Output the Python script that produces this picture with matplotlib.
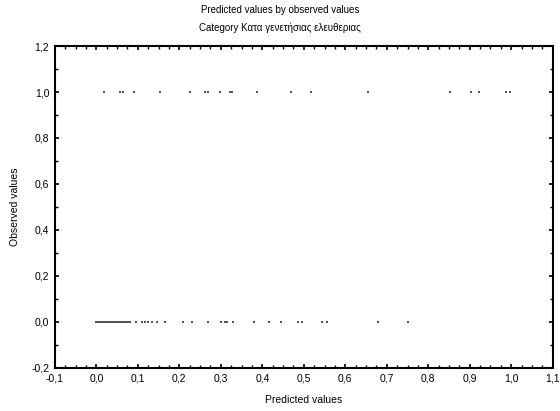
import matplotlib
matplotlib.use("Agg")
import matplotlib.pyplot as plt
from matplotlib.ticker import MultipleLocator, FuncFormatter

# predicted values for cases observed as 1
pred_pos = [0.018, 0.058, 0.065, 0.090, 0.153, 0.225, 0.261, 0.268, 0.299,
            0.322, 0.328, 0.387, 0.468, 0.517, 0.655, 0.852, 0.904, 0.922,
            0.987, 0.996]
# predicted values for cases observed as 0
pred_neg = [0.000, 0.003, 0.005, 0.008, 0.010, 0.012, 0.015, 0.018, 0.020,
            0.023, 0.026, 0.029, 0.032, 0.035, 0.038, 0.041, 0.045, 0.048,
            0.052, 0.056, 0.060, 0.064, 0.068, 0.072, 0.077, 0.082, 0.095,
            0.110, 0.118, 0.125, 0.135, 0.145, 0.165, 0.21, 0.23, 0.27,
            0.30, 0.31, 0.315, 0.33, 0.38, 0.415, 0.445, 0.485, 0.495,
            0.545, 0.555, 0.68, 0.75]

plt.rcParams["font.family"] = ["Liberation Sans", "DejaVu Sans"]

fig = plt.figure(figsize=(5.6, 4.11), dpi=100)
ax = fig.add_axes([0.098, 0.105, 0.889, 0.783])

ax.scatter(pred_pos, [1.0] * len(pred_pos), s=1.2, color="#555555", marker="s", linewidths=0)
ax.scatter(pred_neg, [0.0] * len(pred_neg), s=1.2, color="#555555", marker="s", linewidths=0)

ax.set_xlim(-0.1, 1.1)
ax.set_ylim(-0.2, 1.2)
ax.xaxis.set_major_locator(MultipleLocator(0.1))
ax.xaxis.set_minor_locator(MultipleLocator(0.025))
ax.yaxis.set_major_locator(MultipleLocator(0.2))
ax.yaxis.set_minor_locator(MultipleLocator(0.1))

comma = FuncFormatter(lambda v, p: ("%.1f" % v).replace("-0.0", "0.0").replace(".", ","))
ax.xaxis.set_major_formatter(comma)
ax.yaxis.set_major_formatter(comma)

ax.tick_params(which="both", direction="in", top=True, right=True,
               labelsize=7.5, color="black", pad=4)
ax.tick_params(which="major", length=3, width=1.2)
ax.tick_params(which="minor", length=2, width=1)
for s in ax.spines.values():
    s.set_linewidth(1.5)

ax.set_xlabel("Predicted values", fontsize=7.5, labelpad=8)
ax.set_ylabel("Observed values", fontsize=7.5, labelpad=8)

fig.text(0.5, 0.988, "Predicted values by observed values", ha="center", va="top", fontsize=7)
fig.text(0.5, 0.945, "Category Κατα γενετήσιας ελευθεριας", ha="center", va="top", fontsize=7)

fig.savefig("out.png", dpi=100)
